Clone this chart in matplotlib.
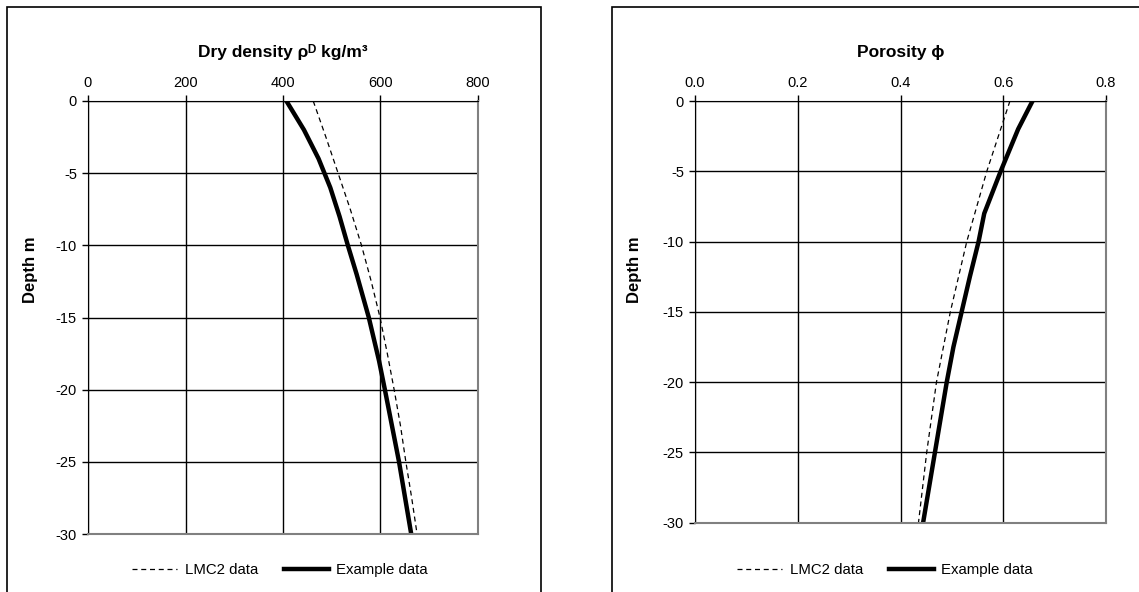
import matplotlib
matplotlib.use("Agg")
import matplotlib.pyplot as plt
from matplotlib.patches import Rectangle
from matplotlib.lines import Line2D

plt.rcParams['font.family'] = ['Liberation Sans', 'DejaVu Sans']

# Dry density (kg/m3) vs depth (m)
dens_lmc_depth = [0, -2.5, -5, -7.5, -10, -12.5, -15, -17.5, -20, -22.5, -25, -27.5, -30]
dens_lmc = [462, 488, 513, 538, 561, 581, 599, 614, 628, 641, 652, 664, 675]
dens_ex_depth = [0, -2, -4, -6, -8, -10, -12, -15, -18, -20, -25, -30]
dens_ex = [407, 443, 473, 497, 516, 533, 551, 576, 597, 609, 638, 663]

# Porosity vs depth (m)
por_lmc_depth = [0, -5, -10, -15, -20, -25, -30]
por_lmc = [0.613, 0.568, 0.529, 0.497, 0.470, 0.451, 0.435]
por_ex_depth = [0, -2, -5, -8, -10, -12.5, -15, -17.5, -20, -25, -30]
por_ex = [0.657, 0.629, 0.595, 0.563, 0.552, 0.535, 0.519, 0.503, 0.490, 0.467, 0.444]

dens_ticks = [0, 200, 400, 600, 800]
por_ticks = [0.0, 0.2, 0.4, 0.6, 0.8]
depth_ticks = [0, -5, -10, -15, -20, -25, -30]

W, H = 1139, 592
fig = plt.figure(figsize=(W / 100, H / 100), dpi=100)

# panel boxes
for x0, x1 in [(7, 541), (612, 1145)]:
    fig.patches.append(Rectangle((x0 / W, 0 - 0.05), (x1 - x0) / W, (H - 7) / H + 0.05,
                                 transform=fig.transFigure, fill=False,
                                 edgecolor='black', linewidth=1.2))

def setup(ax, xticks, xlim, title, fmt, lab_x, lab_y):
    ax.set_xlim(*xlim)
    ax.set_ylim(-30, 0)
    ax.xaxis.tick_top()
    ax.set_xticks(xticks)
    ax.set_xticklabels([fmt(v) for v in xticks])
    ax.set_yticks(depth_ticks)
    ax.set_yticklabels([str(v) for v in depth_ticks])
    ax.grid(True, color='black', linewidth=1.0)
    ax.set_axisbelow(True)
    ax.tick_params(axis='both', labelsize=10.5, length=4, width=1, direction='out', pad=4)
    for s in ['top', 'left']:
        ax.spines[s].set_color('black')
    for s in ['right', 'bottom']:
        ax.spines[s].set_color('#808080')
        ax.spines[s].set_linewidth(1.5)
    ax.set_ylabel('Depth m', fontsize=12, fontweight='bold')
    ax.yaxis.set_label_coords(lab_x, lab_y)
    ax.set_title(title, fontsize=12.5, fontweight='bold', pad=32)

axL = fig.add_axes([88 / W, (H - 534) / H, 390 / W, 433 / H])
setup(axL, dens_ticks, (0, 800), 'Dry density ρᴰ kg/m³', lambda v: str(v),
      (38 - 88) / 390, (534 - 270) / 433)
axL.plot(dens_lmc, dens_lmc_depth, color='black', linewidth=0.9, linestyle=(0, (4, 3)))
axL.plot(dens_ex, dens_ex_depth, color='black', linewidth=3.2)

axR = fig.add_axes([695 / W, (H - 522.7) / H, 411 / W, 421.7 / H])
setup(axR, por_ticks, (0, 0.8), 'Porosity ϕ', lambda v: f'{v:.1f}',
      (642 - 695) / 411, (522.7 - 270) / 421.7)
axR.plot(por_lmc, por_lmc_depth, color='black', linewidth=0.9, linestyle=(0, (4, 3)))
axR.plot(por_ex, por_ex_depth, color='black', linewidth=3.2)

handles = [Line2D([], [], color='black', linewidth=0.9, linestyle=(0, (4, 3))),
           Line2D([], [], color='black', linewidth=3.2)]
labels = ['LMC2 data', 'Example data']
for cx in [280 / W, 885 / W]:
    fig.legend(handles, labels, loc='center', bbox_to_anchor=(cx, (H - 570) / H),
               ncol=2, frameon=False, fontsize=10.8, handlelength=3.0, columnspacing=1.7,
               handletextpad=0.5)

fig.savefig('out.png', dpi=100)
